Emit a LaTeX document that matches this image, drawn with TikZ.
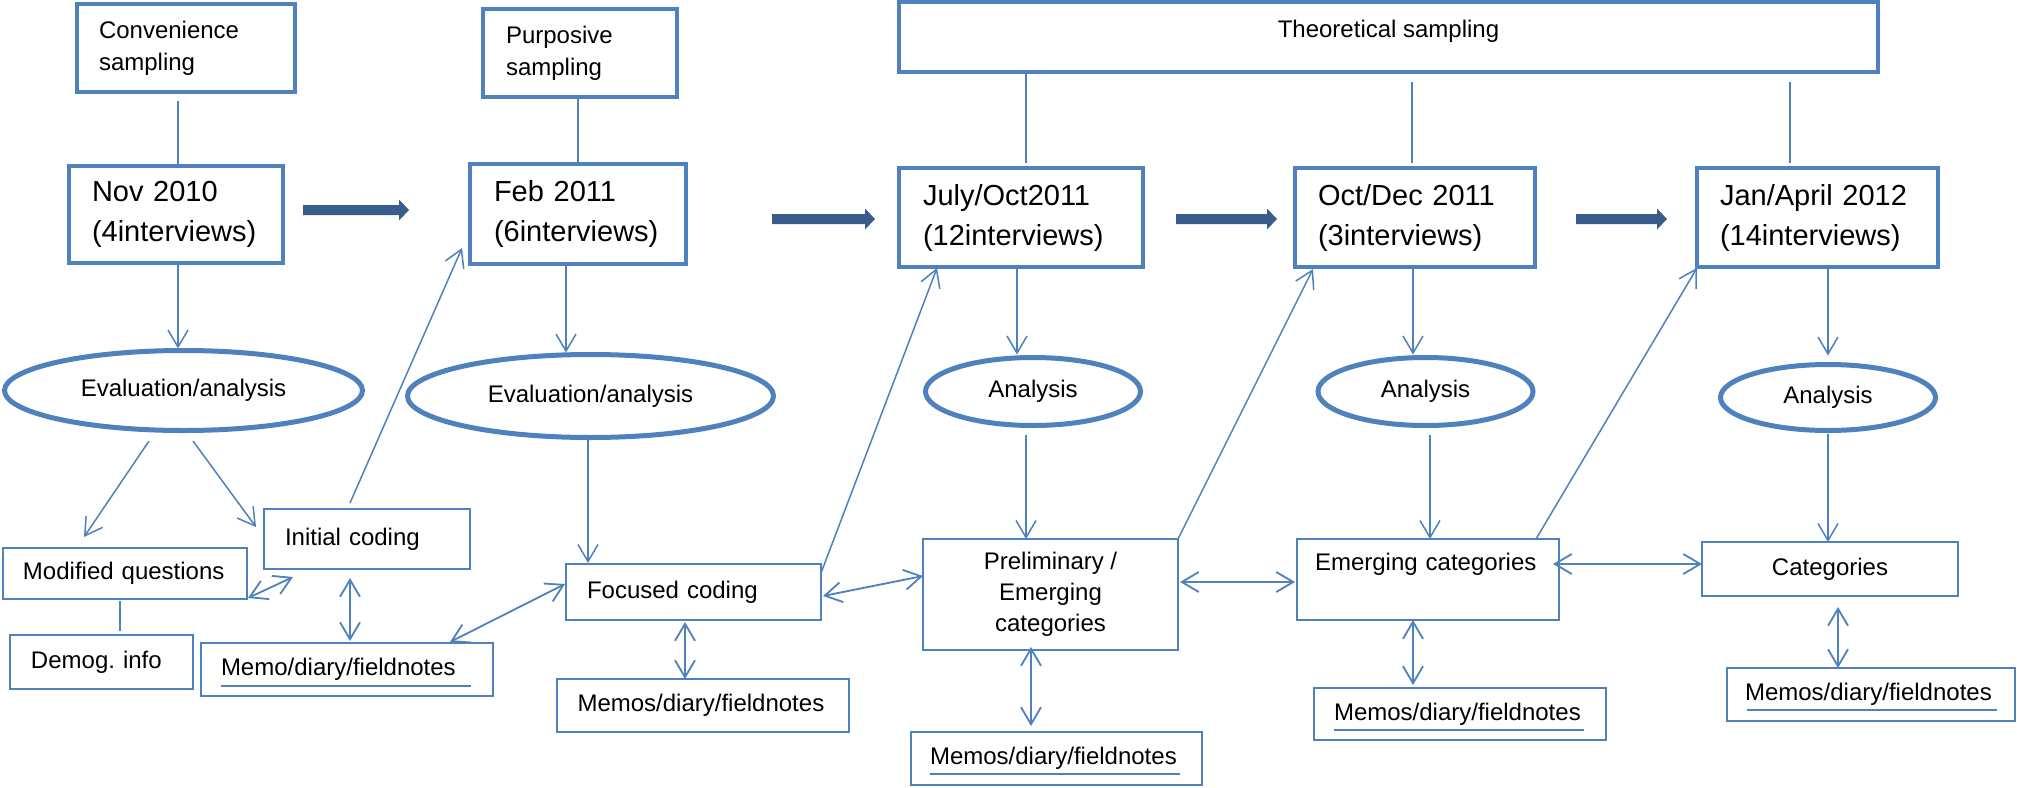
\documentclass[tikz,border=0pt]{standalone}
\usepackage{fontspec}
\setmainfont{Liberation Sans}
\usetikzlibrary{arrows.meta,shapes.geometric,calc}
\definecolor{lineblue}{HTML}{4F81BD}
\definecolor{darkblue}{HTML}{385D8A}
\hyphenpenalty=10000
\exhyphenpenalty=10000
\frenchspacing

% block arrow between two points (shaft 5px high, head 21px high, 10px long)
\newcommand\blockarrow[2]{%
  \fill[darkblue] let \p1=#1, \p2=#2 in
    (\x1,\y1+2.5pt) -- (\x2-5pt,\y1+2.5pt) -- (\x2-5pt,\y1+5.25pt) --
    (\x2,\y1) -- (\x2-5pt,\y1-5.25pt) -- (\x2-5pt,\y1-2.5pt) --
    (\x1,\y1-2.5pt) -- cycle;}

\begin{document}
\begin{tikzpicture}[x=0.5pt,y=-0.5pt,
  every node/.style={inner sep=0pt, outer sep=0pt},
  samplebox/.style={draw=lineblue, line width=2.2pt, font=\fontsize{12}{16}\selectfont},
  periodbox/.style={draw=lineblue, line width=2.2pt, font=\fontsize{14.5}{20}\selectfont, align=left},
  stage/.style={ellipse, draw=lineblue, line width=2.5pt, font=\fontsize{12}{15}\selectfont},
  plainbox/.style={draw=lineblue, line width=0.65pt, font=\fontsize{12}{15.5}\selectfont},
  link/.style={draw=lineblue, line width=0.75pt},
  flow/.style={link, -{Straight Barb[length=8.5pt,width=10pt]}},
  twoway/.style={draw=lineblue, line width=0.9pt,
    {Straight Barb[length=8.5pt,width=10pt]}-{Straight Barb[length=8.5pt,width=10pt]}},
  uline/.style={draw=lineblue, line width=0.55pt},
]
\fill[white] (0,0) rectangle (2017,787);
\useasboundingbox (0,0) rectangle (2017,787);

% sampling strategies
\node[samplebox, minimum width=109pt, minimum height=44pt, text width=87pt, align=left]
  (conv) at (186,48) {Convenience\\sampling};
\node[samplebox, minimum width=97pt, minimum height=44pt, text width=74pt, align=left]
  (purp) at (580,53) {Purposive\\sampling};
\node[samplebox, minimum width=489.5pt, minimum height=35pt, text height=9pt, text depth=8.4pt]
  (theo) at (1388.5,37) {Theoretical sampling};

% data collection periods
\node[periodbox, minimum width=107pt, minimum height=48.5pt, text width=84pt]
  (nov) at (176,214.5) {Nov 2010\\(4interviews)};
\node[periodbox, minimum width=108pt, minimum height=50pt, text width=84pt]
  (feb) at (578,214) {Feb 2011\\(6interviews)};
\node[periodbox, minimum width=122pt, minimum height=49.5pt, text width=98pt]
  (july) at (1021,217.5) {July/Oct2011\\(12interviews)};
\node[periodbox, minimum width=120pt, minimum height=49.5pt, text width=97pt]
  (oct) at (1415,217.5) {Oct/Dec 2011\\(3interviews)};
\node[periodbox, minimum width=120.5pt, minimum height=49.5pt, text width=97.5pt]
  (jan) at (1817.5,217.5) {Jan/April 2012\\(14interviews)};

% analysis steps
\node[stage, minimum width=179pt, minimum height=40pt] (e1) at (183.5,390.5) {Evaluation/analysis};
\node[stage, minimum width=183pt, minimum height=41.5pt] (e2) at (590.5,396) {Evaluation/analysis};
\node[stage, minimum width=107.5pt, minimum height=34pt] (e3) at (1033,391.5) {Analysis};
\node[stage, minimum width=107.5pt, minimum height=34pt] (e4) at (1425.5,391.5) {Analysis};
\node[stage, minimum width=107.5pt, minimum height=33pt] (e5) at (1828,397.5) {Analysis};

% outcomes
\node[plainbox, minimum width=122pt, minimum height=25.5pt, text width=102pt, align=left]
  (modq) at (125,573.5) {Modified questions};
\node[plainbox, minimum width=103pt, minimum height=30pt, text width=82pt, align=left]
  (init) at (367,539) {Initial coding};
\node[plainbox, minimum width=91.5pt, minimum height=27pt, text width=70.5pt, align=left]
  (demog) at (101.5,662) {Demog. info};
\node[plainbox, minimum width=146pt, minimum height=26.5pt, text width=126pt, align=left]
  (memo1) at (347,669.5) {Memo/diary/fieldnotes};
\node[plainbox, minimum width=127.5pt, minimum height=28pt, text width=106.5pt, align=left]
  (focus) at (693.5,592) {Focused coding};
\node[plainbox, minimum width=146pt, minimum height=26.5pt, text width=125.5pt, align=left]
  (memos2) at (703,705.5) {Memos/diary/fieldnotes};
\node[plainbox, minimum width=127.5pt, minimum height=55.5pt, align=center]
  (prelim) at (1050.5,594.5) {Preliminary /\\Emerging\\categories};
\node[plainbox, minimum width=145.5pt, minimum height=26.5pt, text width=126.5pt, align=left]
  (memos3) at (1056.5,758.5) {Memos/diary/fieldnotes};
\node[plainbox, minimum width=131pt, minimum height=40.5pt, text width=113pt, align=left]
  (emerg) at (1428,579.5) {Emerging categories\strut\\\strut};
\node[plainbox, minimum width=146pt, minimum height=26pt, text width=126pt, align=left]
  (memos4) at (1460,714) {Memos/diary/fieldnotes};
\node[plainbox, minimum width=128pt, minimum height=27pt]
  (cat) at (1830,569) {Categories};
\node[plainbox, minimum width=144pt, minimum height=26.5pt, text width=126pt, align=left]
  (memos5) at (1871,694.5) {Memos/diary/fieldnotes};

% underlines in the memo boxes
\draw[uline] ($(memo1.south west)+(20,-10)$) -- ++(250,0);
\draw[uline] ($(memos3.south west)+(19,-11)$) -- ++(250,0);
\draw[uline] ($(memos4.south west)+(20,-10)$) -- ++(250,0);
\draw[uline] ($(memos5.south west)+(20,-11)$) -- ++(250,0);

% sampling to periods
\draw[link] ($(conv.south)+(-8,9)$) -- ($(nov.north)+(2,0)$);
\draw[link] ($(purp.south)+(-2,0)$) -- (feb.north);
\draw[link] ($(theo.south -| july.north)+(5,0)$) -- ($(july.north)+(5,-5)$);
\draw[link] ($(theo.south -| oct.north)+(-3,10)$) -- ($(oct.north)+(-3,-5)$);
\draw[link] ($(theo.south -| jan.north)+(-27.5,10)$) -- ($(jan.north)+(-27.5,-5)$);

% progression between periods
\blockarrow{($(nov.east)+(20,-4.5)$)}{($(feb.west)+(-61,-4)$)}
\blockarrow{($(feb.east)+(86,5)$)}{($(july.west)+(-24,1.5)$)}
\blockarrow{($(july.east)+(33,1.5)$)}{($(oct.west)+(-18,1.5)$)}
\blockarrow{($(oct.east)+(41,1.5)$)}{($(jan.west)+(-30,1.5)$)}

% periods to analysis
\draw[flow] ($(nov.south)+(2,2)$) -- ($(e1.north)+(-5.5,-2)$);
\draw[flow] ($(feb.south)+(-12,0)$) -- ($(e2.north)+(-24.5,-2)$);
\draw[flow] ($(july.south)+(-4,0)$) -- ($(e3.north)+(-16,-3)$);
\draw[flow] ($(oct.south)+(-2,0)$) -- ($(e4.north)+(-12.5,-3)$);
\draw[flow] ($(jan.south)+(10.5,0)$) -- ($(e5.north)+(0,-9)$);

% first round
\draw[flow] ($(e1.south)+(-34.5,10.5)$) -- ($(modq.north)+(-41,-11)$);
\draw[flow] ($(e1.south)+(9.5,10.5)$) -- ($(init.west)+(-8,-12)$);
\draw[twoway] ($(modq.south east)+(1,-1)$) -- ($(init.south west)+(29,8)$);
\draw[link] ($(modq.south)+(-5,2)$) -- ($(demog.north)+(18.5,-4)$);
\draw[twoway] ($(init.south)+(-17,9)$) -- ($(memo1.north)+(3,-2)$);
\draw[flow] ($(init.north)+(-17,-6)$) -- ($(feb.south west)+(-8,-16)$);
\draw[twoway] ($(memo1.north)+(103,-1)$) -- ($(focus.west)+(-1,-8)$);

% second round
\draw[flow] ($(e2.south)+(-2.5,2.5)$) -- ($(focus.north)+(-105.5,-1)$);
\draw[twoway] ($(focus.south)+(-8.5,2)$) -- ($(memos2.north)+(-18,0)$);
\draw[flow] ($(focus.north east)+(0,9)$) -- ($(july.south west)+(38,1)$);
\draw[twoway] ($(focus.east)+(2,4)$) -- ($(prelim.west)+(0,-18.5)$);

% third round
\draw[flow] ($(e3.south)+(-7,9)$) -- ($(prelim.north)+(-24.5,0)$);
\draw[twoway] ($(prelim.south)+(-19.5,-3)$) -- ($(memos3.north)+(-25.5,-6)$);
\draw[flow] (prelim.north east) -- ($(oct.south west)+(18,2)$);
\draw[twoway] ($(prelim.east)+(2,-12.5)$) -- ($(emerg.west)+(-2,2.5)$);

% fourth round
\draw[flow] ($(e4.south)+(4.5,9)$) -- ($(emerg.north)+(2,0)$);
\draw[twoway] ($(emerg.south)+(-15,0)$) -- ($(memos4.north)+(-47,-3)$);
\draw[flow] ($(emerg.north east)+(-23,0)$) -- ($(jan.south west)+(0,1)$);
\draw[twoway] ($(emerg.east)+(-6,-15.5)$) -- ($(cat.west)+(0,-5)$);

% fifth round
\draw[flow] ($(e5.south)+(0,3)$) -- ($(cat.north)+(-2,0)$);
\draw[twoway] ($(cat.south)+(8,11)$) -- ($(memos5.north)+(-33,0)$);
\end{tikzpicture}
\end{document}
